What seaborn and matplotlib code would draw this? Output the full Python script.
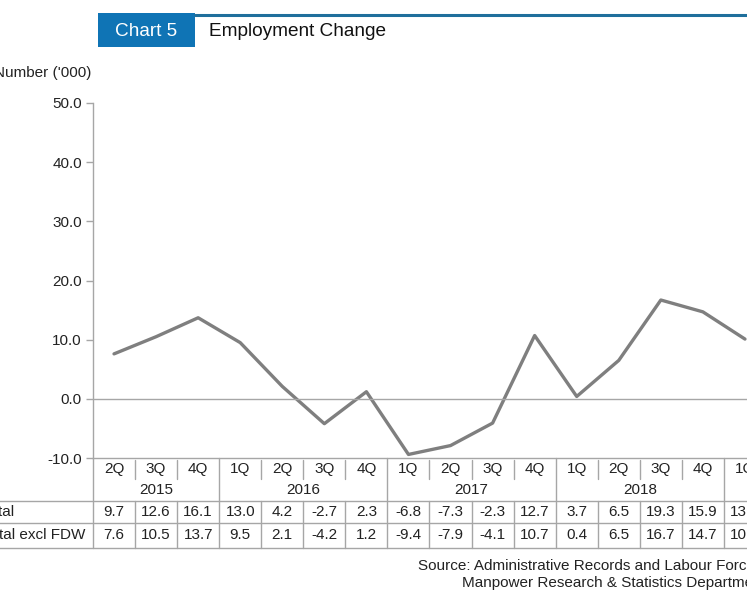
import pandas as pd
import matplotlib.pyplot as plt
import seaborn as sns
from matplotlib.patches import Rectangle
from matplotlib.lines import Line2D

quarters = ['2Q', '3Q', '4Q',
            '1Q', '2Q', '3Q', '4Q',
            '1Q', '2Q', '3Q', '4Q',
            '1Q', '2Q', '3Q', '4Q',
            '1Q']
years = ['2015', '2015', '2015',
         '2016', '2016', '2016', '2016',
         '2017', '2017', '2017', '2017',
         '2018', '2018', '2018', '2018',
         '2019']
total = [9.7, 12.6, 16.1, 13.0, 4.2, -2.7, 2.3, -6.8, -7.3, -2.3, 12.7,
         3.7, 6.5, 19.3, 15.9, 13.5]
total_excl_fdw = [7.6, 10.5, 13.7, 9.5, 2.1, -4.2, 1.2, -9.4, -7.9, -4.1, 10.7,
                  0.4, 6.5, 16.7, 14.7, 10.1]
year_labels = ['2015', '2016', '2017', '2018']
y_ticks = [-10, 0, 10, 20, 30, 40, 50]

df = pd.DataFrame({'quarter': quarters, 'year': years,
                   'total': total, 'excl_fdw': total_excl_fdw})
df['period'] = df['quarter'] + ' ' + df['year']

sns.set_style('white')
plt.rcParams['font.family'] = ['Liberation Sans', 'DejaVu Sans']

W, H = 747, 598
fs = 11
fig = plt.figure(figsize=(W / 100, H / 100), dpi=100)
ax = fig.add_axes([93 / W, 140 / H, 673 / W, 355 / H])

sns.lineplot(data=df, x='period', y='excl_fdw', sort=False, ax=ax,
             color='#7f7f7f', linewidth=2.4)

grey = '#a6a6a6'
ax.set_xlim(-0.5, len(df) - 0.5)
ax.set_ylim(-10, 50)
ax.set_yticks(y_ticks)
ax.set_yticklabels([f'{v:.1f}' for v in y_ticks], fontsize=fs, color='#222222')
ax.tick_params(axis='y', left=True, length=5, width=1, color=grey, pad=3)
ax.tick_params(axis='x', bottom=False, labelbottom=False)
ax.set_xlabel('')
ax.set_ylabel('')
ax.axhline(0, color=grey, linewidth=1)
for s in ['top', 'right']:
    ax.spines[s].set_visible(False)
for s in ['left', 'bottom']:
    ax.spines[s].set_color(grey)
    ax.spines[s].set_linewidth(1)

# table under the axis
tr = ax.get_xaxis_transform()


def ya(py):
    return (458 - py) / 355


n = len(df)
x_left_px = -3.0
line_kw = dict(color=grey, linewidth=1, transform=tr, clip_on=False)
for py in [501, 523, 548]:
    ax.plot([x_left_px, n - 0.5], [ya(py), ya(py)], **line_kw)

ax.plot([-0.5, -0.5], [ya(458), ya(548)], **line_kw)
for i in range(1, n):
    if df['year'][i] != df['year'][i - 1]:
        ax.plot([i - 0.5, i - 0.5], [ya(458), ya(548)], **line_kw)
    else:
        ax.plot([i - 0.5, i - 0.5], [ya(460), ya(479)], **line_kw)
        ax.plot([i - 0.5, i - 0.5], [ya(501), ya(548)], **line_kw)

txt_kw = dict(transform=tr, ha='center', va='center', fontsize=fs,
              color='#222222', clip_on=False)
for i, row in df.iterrows():
    ax.text(i, ya(469), row['quarter'], **txt_kw)
    ax.text(i, ya(512), f"{row['total']:.1f}", **txt_kw)
    ax.text(i, ya(535), f"{row['excl_fdw']:.1f}", **txt_kw)

for yl in year_labels:
    idx = df.index[df['year'] == yl]
    ax.text((idx.min() + idx.max()) / 2, ya(490), yl, **txt_kw)

lab_x = (-17 - 93) / 42.06 - 0.5
ax.text(lab_x, ya(512), 'Total', transform=tr, ha='left', va='center',
        fontsize=fs, color='#222222', clip_on=False)
ax.text(lab_x, ya(535), 'Total excl FDW', transform=tr, ha='left', va='center',
        fontsize=fs, color='#222222', clip_on=False)

# header
fig.add_artist(Line2D([195 / W, 1], [1 - 15 / H, 1 - 15 / H],
                      color='#1f6f9c', linewidth=2.2))
fig.add_artist(Rectangle((98 / W, 1 - 47 / H), 97 / W, 34 / H,
                         facecolor='#0f74b5', edgecolor='none',
                         transform=fig.transFigure))
fig.text(146 / W, 1 - 32 / H, 'Chart 5', ha='center', va='center',
         fontsize=13.7, color='white')
fig.text(209 / W, 1 - 32 / H, 'Employment Change', ha='left', va='center',
         fontsize=13.7, color='#111111')
fig.text(91 / W, 1 - 73 / H, "Number ('000)", ha='right', va='center',
         fontsize=fs, color='#222222')

fig.text(418 / W, 1 - 566 / H, 'Source: Administrative Records and Labour Force Survey,',
         ha='left', va='center', fontsize=fs, color='#222222')
fig.text(462 / W, 1 - 583 / H, 'Manpower Research & Statistics Department',
         ha='left', va='center', fontsize=fs, color='#222222')

fig.savefig('out.png', dpi=100)
